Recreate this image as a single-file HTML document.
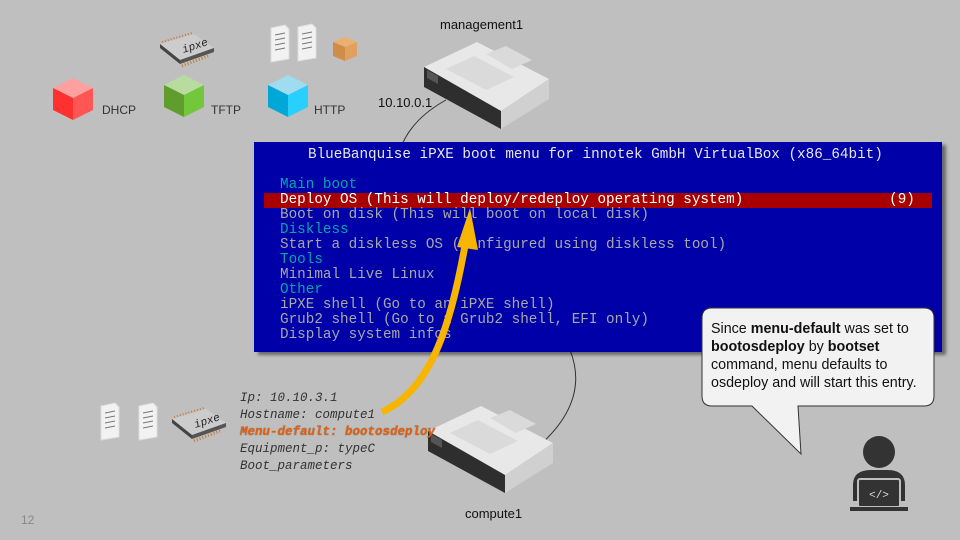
<!DOCTYPE html>
<html><head><meta charset="utf-8"><style>
body{margin:0;width:960px;height:540px;background:#bfbfbf;overflow:hidden;position:relative;font-family:"Liberation Sans",sans-serif}
.t{position:absolute;white-space:pre}
.term{position:absolute;left:254px;top:142px;width:688px;height:210px;background:#0000a8;box-shadow:4px 3px 3px rgba(0,0,0,.45)}
.ln{position:absolute;left:26px;font-family:"Liberation Mono",monospace;font-size:14.3px;color:#a8a8a8;line-height:15px;white-space:pre}
.c{color:#00a8a8}
.mono{font-family:"Liberation Mono",monospace;font-style:italic;font-size:12.5px;color:#333;line-height:17px}
</style></head><body>
<svg width="960" height="540" style="position:absolute;left:0;top:0">
<defs>
<g id="srv">
<polygon points="0,25 53,0 125,37 77,69" fill="#e8e8e8"/>
<polygon points="0,25 77,69 77,87 0,45" fill="#2e2e2e"/>
<polygon points="77,69 125,37 125,57 77,87" fill="#d0d0d0"/>
<polygon points="22,27 50,14 90,35 62,48" fill="#dadada"/>
<polygon points="62,12 82,4 108,18 88,27" fill="#dadada"/>
<polygon points="3,28 14,34 14,42 3,36" fill="#555"/>
</g>
<g id="doc"><path d="M0,3 L14,0 L18,4 L18,34 L0,37 Z" fill="#f2f2f2" stroke="#ddd"/>
<path d="M4,10 L14,8 M4,15 L14,13 M4,20 L14,18 M4,25 L14,23" stroke="#777" stroke-width="1"/></g>
<g id="chip"><polygon points="0,10 34,0 54,14 20,26" fill="#ccc"/><polygon points="0,10 20,26 20,30 0,14" fill="#444"/><polygon points="20,26 54,14 54,18 20,30" fill="#555"/>
<path d="M22,32 L48,22" stroke="#c87a30" stroke-width="3" stroke-dasharray="1,2"/><path d="M2,8 L32,-1" stroke="#c87a30" stroke-width="2" stroke-dasharray="1,2"/>
<text x="22" y="18" font-family="Liberation Mono" font-style="italic" font-size="11" fill="#222" transform="rotate(-18 26 14)">ipxe</text></g>
</defs>
<path d="M446,100 Q410,120 400,150" stroke="#333" fill="none"/>
<path d="M570,350 Q590,400 540,445" stroke="#333" fill="none"/>
<g transform="translate(53,78)"><polygon points="20,0 40,10 20,20 0,10" fill="#ffa0a0"/><polygon points="0,10 20,20 20,42 0,32" fill="#ff3030"/><polygon points="20,20 40,10 40,32 20,42" fill="#ff5555"/></g>
<g transform="translate(164,75)"><polygon points="20,0 40,10 20,20 0,10" fill="#b8dca0"/><polygon points="0,10 20,20 20,42 0,32" fill="#5f9e2c"/><polygon points="20,20 40,10 40,32 20,42" fill="#72c83a"/></g>
<g transform="translate(268,75)"><polygon points="20,0 40,10 20,20 0,10" fill="#a0dcf0"/><polygon points="0,10 20,20 20,42 0,32" fill="#00a8d8"/><polygon points="20,20 40,10 40,32 20,42" fill="#28d0ff"/></g>
<use href="#chip" x="160" y="34"/>
<use href="#doc" x="271" y="25"/><use href="#doc" x="298" y="24"/>
<g transform="translate(333,37)"><polygon points="0,5 12,0 24,5 12,10" fill="#eab070"/><polygon points="0,5 12,10 12,24 0,19" fill="#d08c48"/><polygon points="12,10 24,5 24,19 12,24" fill="#e0a060"/></g>
<use href="#doc" x="101" y="403"/><use href="#doc" x="139" y="403"/>
<use href="#chip" x="172" y="409"/>
<use href="#srv" x="424" y="42"/>
<use href="#srv" x="428" y="406"/>
</svg>
<div class="t" style="left:440px;top:17px;font-size:13px;color:#111">management1</div>
<div class="t" style="left:378px;top:95px;font-size:13px;color:#111">10.10.0.1</div>
<div class="t" style="left:102px;top:103px;font-size:12px;color:#333">DHCP</div>
<div class="t" style="left:211px;top:103px;font-size:12px;color:#333">TFTP</div>
<div class="t" style="left:314px;top:103px;font-size:12px;color:#333">HTTP</div>
<div class="t" style="left:465px;top:506px;font-size:13px;color:#111">compute1</div>
<div class="t" style="left:21px;top:513px;font-size:12px;color:#888">12</div>
<div class="term">
<div class="ln" style="left:54px;top:6px;color:#e8e8e8">BlueBanquise iPXE boot menu for innotek GmbH VirtualBox (x86_64bit)</div>
<div style="position:absolute;left:10px;top:51px;width:668px;height:15px;background:#a80000"></div>
<div class="ln c" style="top:36px">Main boot</div>
<div class="ln" style="top:51px;color:#fff">Deploy OS (This will deploy/redeploy operating system)                 (9)</div>
<div class="ln" style="top:66px">Boot on disk (This will boot on local disk)</div>
<div class="ln c" style="top:81px">Diskless</div>
<div class="ln" style="top:96px">Start a diskless OS (configured using diskless tool)</div>
<div class="ln c" style="top:111px">Tools</div>
<div class="ln" style="top:126px">Minimal Live Linux</div>
<div class="ln c" style="top:141px">Other</div>
<div class="ln" style="top:156px">iPXE shell (Go to an iPXE shell)</div>
<div class="ln" style="top:171px">Grub2 shell (Go to a Grub2 shell, EFI only)</div>
<div class="ln" style="top:186px">Display system infos</div>
</div>
<svg width="960" height="540" style="position:absolute;left:0;top:0">
<path d="M382,412 C430,390 450,330 466,240" stroke="#f7b500" stroke-width="7" fill="none"/>
<polygon points="457,247 470,208 478,250" fill="#f7b500"/>
<path d="M712,308 Q702,308 702,318 L702,396 Q702,406 712,406 L752,406 L801,454 L798,406 L924,406 Q934,406 934,396 L934,318 Q934,308 924,308 Z" fill="#f2f2f2" stroke="#333"/>
<g transform="translate(849,435)" fill="#333"><circle cx="30" cy="17" r="16"/><path d="M4,66 L4,50 Q4,35 22,35 L38,35 Q56,35 56,50 L56,66 Z"/>
<rect x="9" y="44" width="42" height="28" rx="2" fill="#333" stroke="#bfbfbf" stroke-width="2"/><rect x="1" y="72" width="58" height="4" fill="#333"/>
<text x="30" y="63" font-family="Liberation Mono" font-size="11" fill="#ddd" text-anchor="middle">&lt;/&gt;</text></g>
</svg>
<div class="t" style="left:711px;top:320px;font-size:14.3px;line-height:18px;color:#111">Since <b>menu-default</b> was set to
<b>bootosdeploy</b> by <b>bootset</b>
command, menu defaults to
osdeploy and will start this entry.</div>
<div class="t mono" style="left:240px;top:390px">Ip: 10.10.3.1
Hostname: compute1
<span style="color:#e8600a;font-weight:bold;text-shadow:0 0 1px #555">Menu-default: bootosdeploy</span>
Equipment_p: typeC
Boot_parameters</div>
</body></html>
